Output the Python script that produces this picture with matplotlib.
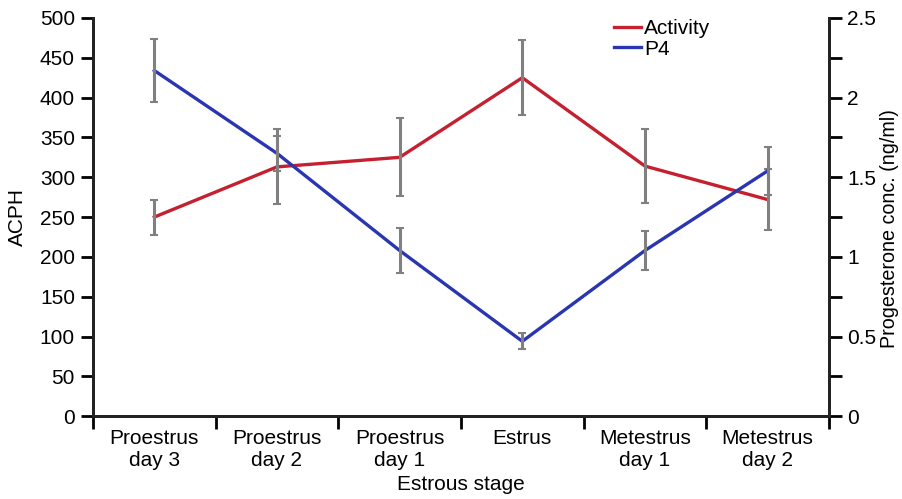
import matplotlib

matplotlib.use("Agg")
import matplotlib.pyplot as plt
from matplotlib.lines import Line2D

plt.rcParams["font.family"] = ["Liberation Sans", "DejaVu Sans"]

STAGES = ["Proestrus\nday 3", "Proestrus\nday 2", "Proestrus\nday 1",
          "Estrus", "Metestrus\nday 1", "Metestrus\nday 2"]
ACTIVITY = [250, 313, 325, 425, 314, 272]
ACTIVITY_ERR = [22, 47, 49, 47, 46, 38]
P4 = [2.17, 1.65, 1.04, 0.47, 1.04, 1.54]
P4_ERR = [0.20, 0.11, 0.14, 0.05, 0.12, 0.15]

RED = "#c42030"
BLUE = "#2a36b0"
ERR = "#808080"
CAP = "#333333"
FS = 15

fig = plt.figure(figsize=(9.03, 4.99), dpi=100)
ax = fig.add_axes([0.103, 0.166, 0.815, 0.798])
ax2 = ax.twinx()

x = list(range(len(STAGES)))
ax.plot(x, ACTIVITY, color=RED, linewidth=2.4, zorder=2)
ax2.plot(x, P4, color=BLUE, linewidth=2.4, zorder=2)
for a, vals, errs in ((ax, ACTIVITY, ACTIVITY_ERR), (ax2, P4, P4_ERR)):
    _, caps, _ = a.errorbar(x, vals, yerr=errs, fmt="none", ecolor=ERR,
                            elinewidth=2.2, capsize=3, capthick=1.5, zorder=3)
    for c in caps:
        c.set_color(CAP)

ax.set_xlim(-0.5, len(STAGES) - 0.5)
ax.set_ylim(0, 500)
ax.set_yticks(range(0, 501, 50))
ax2.set_ylim(0, 2.5)
ax2.set_yticks([0, 0.5, 1, 1.5, 2, 2.5])
ax2.set_yticklabels(["0", "0.5", "1", "1.5", "2", "2.5"])
ax2.set_yticks([0.25, 0.75, 1.25, 1.75, 2.25], minor=True)

# category labels centred, tick marks between categories
ax.set_xticks(x)
ax.set_xticklabels(STAGES, fontsize=FS, linespacing=1.2)
ax.set_xticks([i - 0.5 for i in range(len(STAGES) + 1)], minor=True)
ax.tick_params(axis="x", which="major", length=0, pad=9)
ax.tick_params(axis="x", which="minor", length=9, width=2)
ax.tick_params(axis="y", length=9, width=2, labelsize=FS, pad=4)
ax2.tick_params(axis="y", which="both", length=9, width=2, labelsize=FS, pad=4)

for a in (ax, ax2):
    a.spines["top"].set_visible(False)
    for side in ("left", "right", "bottom"):
        a.spines[side].set_linewidth(2)
        a.spines[side].set_color("#222222")

ax.set_xlabel("Estrous stage", fontsize=FS, labelpad=4)
ax.set_ylabel("ACPH", fontsize=FS, labelpad=9)
ax2.set_ylabel("Progesterone conc. (ng/ml)", fontsize=14.2)
ax2.yaxis.set_label_coords(1.069, 0.47)

handles = [Line2D([], [], color=RED, linewidth=2.4),
           Line2D([], [], color=BLUE, linewidth=2.4)]
fig.legend(handles, ["Activity", "P4"], loc="upper left",
           bbox_to_anchor=(0.666, 0.986), frameon=False, fontsize=FS,
           handlelength=1.3, handletextpad=0.15, labelspacing=0.05,
           borderaxespad=0.2)

fig.savefig("out.png", dpi=100, facecolor="white")
